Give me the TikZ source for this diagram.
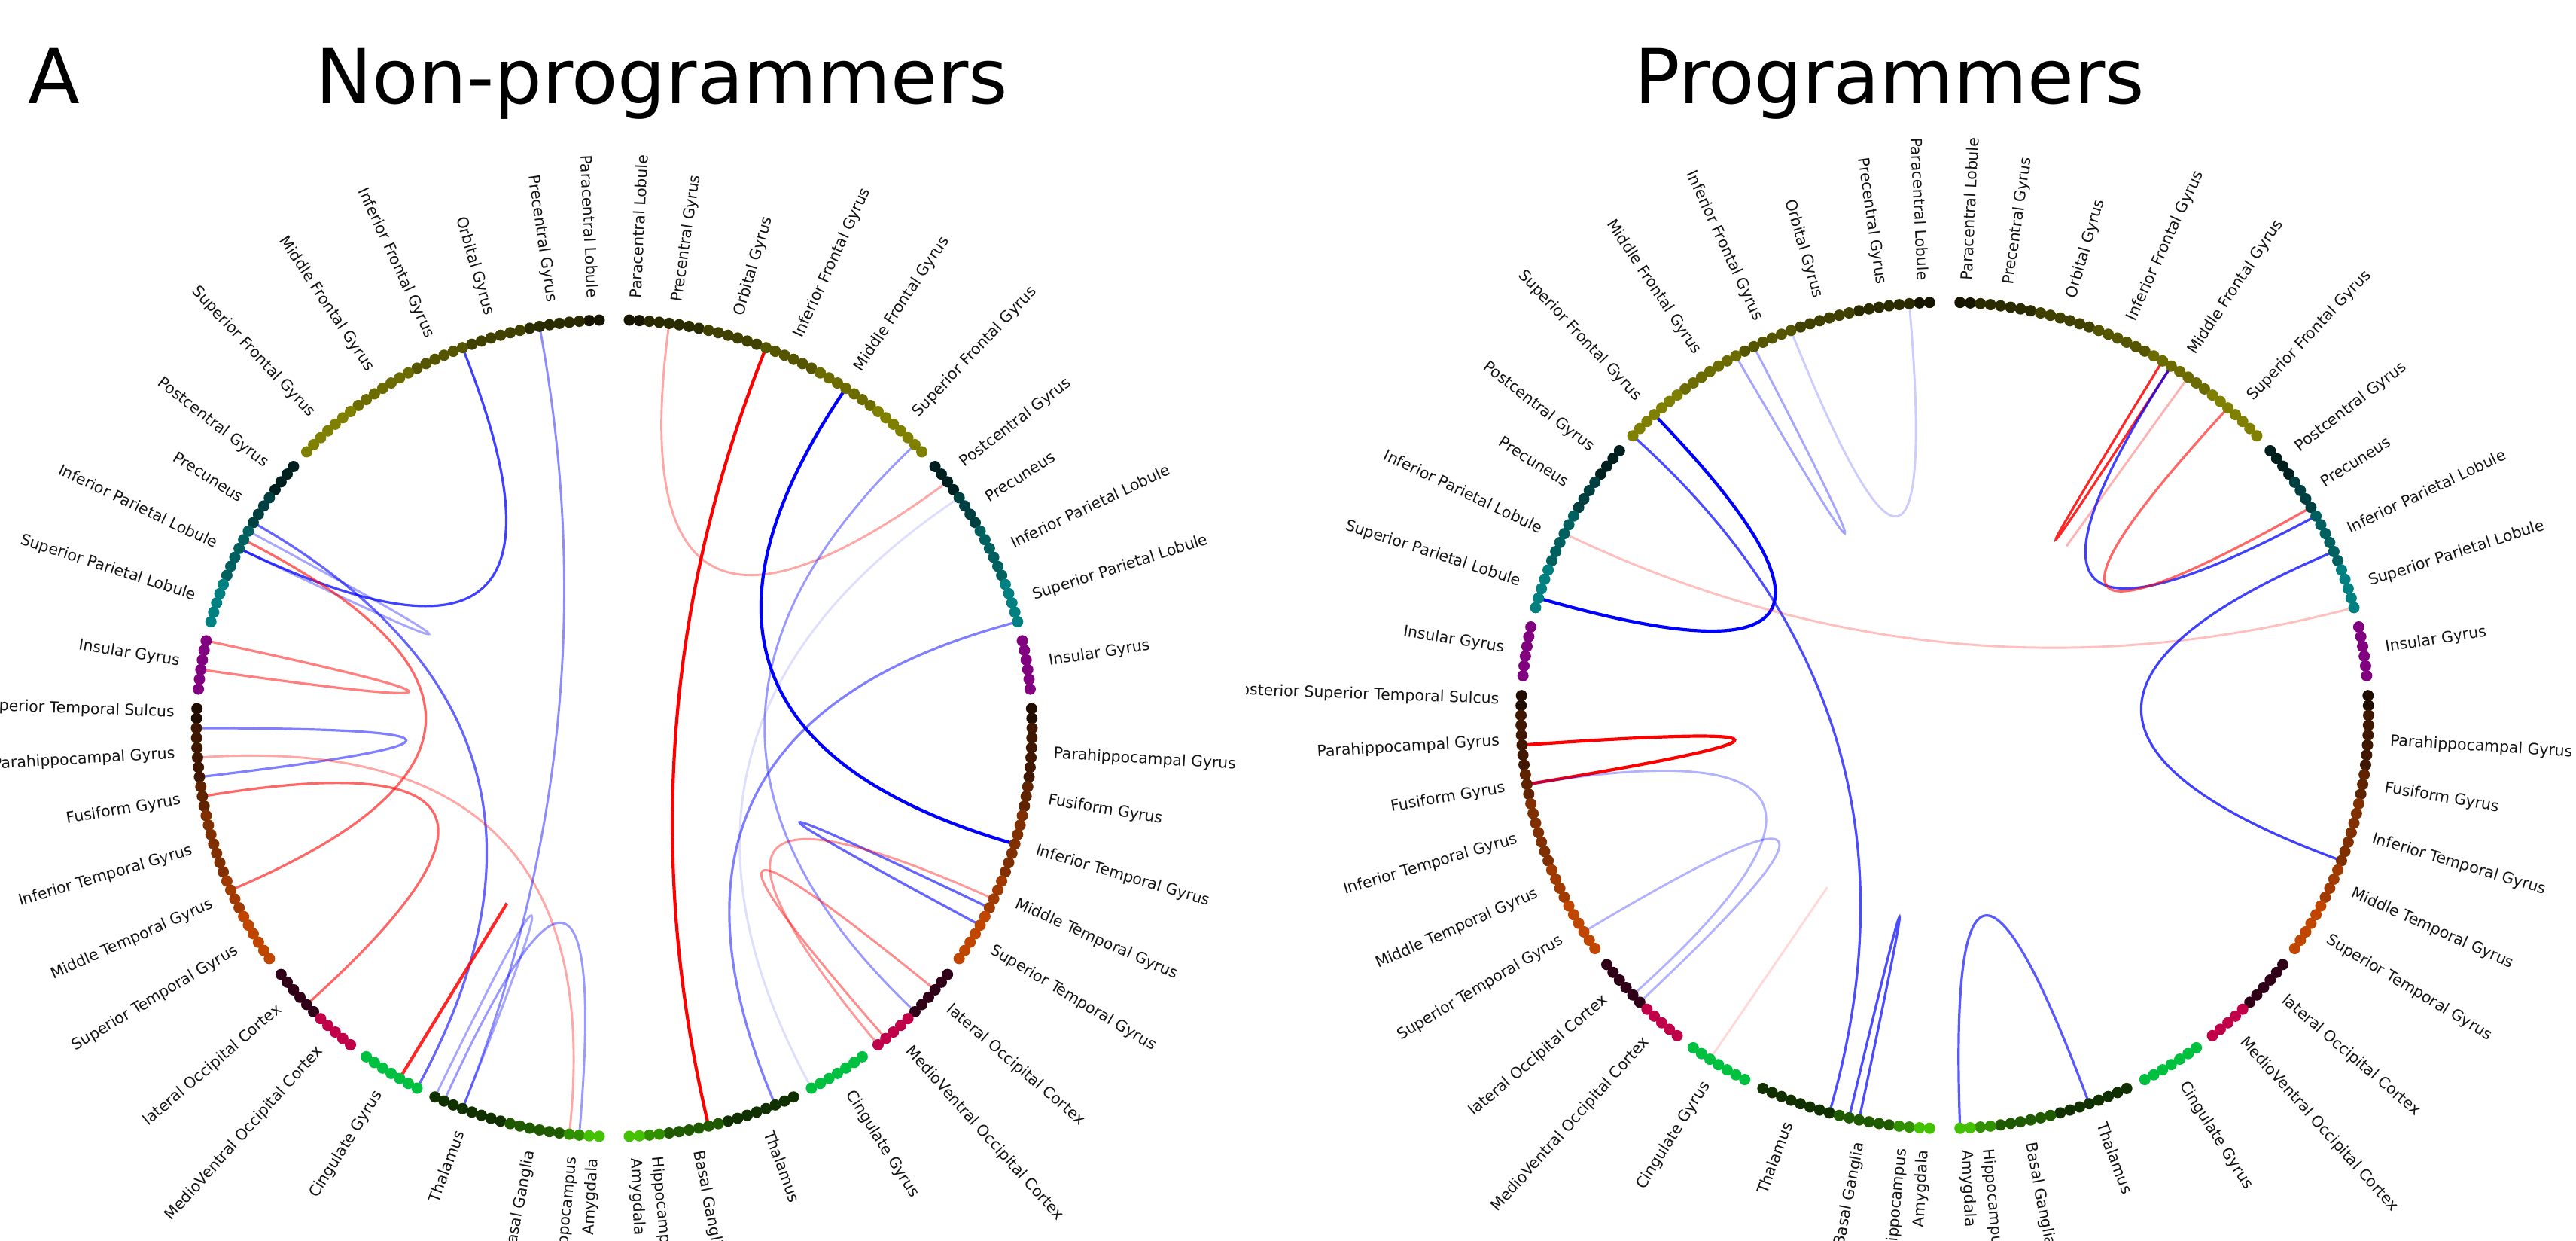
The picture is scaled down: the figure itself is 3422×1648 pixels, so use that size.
\documentclass[tikz,border=0pt]{standalone}
\usepackage{fontspec}
\setmainfont{DejaVu Sans}
\usetikzlibrary{calc}
\definecolor{cPCL}{RGB}{21,21,0}
\definecolor{cPrG}{RGB}{43,43,0}
\definecolor{cOrG}{RGB}{64,64,0}
\definecolor{cIFG}{RGB}{85,85,0}
\definecolor{cMFG}{RGB}{107,107,0}
\definecolor{cSFG}{RGB}{128,128,0}
\definecolor{cPoG}{RGB}{0,32,32}
\definecolor{cPcun}{RGB}{0,64,64}
\definecolor{cIPL}{RGB}{0,96,96}
\definecolor{cSPL}{RGB}{0,128,128}
\definecolor{cINS}{RGB}{128,0,128}
\definecolor{cpSTS}{RGB}{32,12,0}
\definecolor{cPhG}{RGB}{64,23,0}
\definecolor{cFuG}{RGB}{96,35,0}
\definecolor{cITG}{RGB}{128,47,0}
\definecolor{cMTG}{RGB}{160,58,0}
\definecolor{cSTG}{RGB}{192,70,0}
\definecolor{cLOcC}{RGB}{48,0,24}
\definecolor{cMVOcC}{RGB}{192,0,72}
\definecolor{cCG}{RGB}{0,192,64}
\definecolor{cTha}{RGB}{16,48,0}
\definecolor{cBG}{RGB}{32,90,0}
\definecolor{cHipp}{RGB}{48,144,0}
\definecolor{cAmyg}{RGB}{66,194,0}
\newcommand\regionlist{0/1/cPCL,2/7/cPrG,8/13/cOrG,14/19/cIFG,20/26/cMFG,27/33/cSFG,35/38/cPoG,39/42/cPcun,43/48/cIPL,49/53/cSPL,55/60/cINS,62/63/cpSTS,64/69/cPhG,70/72/cFuG,73/79/cITG,80/83/cMTG,84/89/cSTG,91/96/cLOcC,97/101/cMVOcC,103/109/cCG,111/118/cTha,119/124/cBG,125/126/cHipp,127/128/cAmyg}
% slot coordinates of one hemisphere
\newcommand\mkhemi[5]{%
  \foreach \p in {0,...,128}{%
    \pgfmathsetmacro\angv{90+(#3)*(1.5+\p)*1.37405}%
    \coordinate (#1-#2-\p) at (\angv:#4 and #5);}}
% dots of one hemisphere
\newcommand\mkdots[1]{%
  \foreach \a/\b/\c in \regionlist {%
    \foreach \p in {\a,...,\b}{\fill[\c] (#1-\p) circle[radius=7.5];}}}
% chord: centre, from, to, style
\newcommand\chord[4]{%
  \draw[#4] (#2) .. controls ($(#1)!0.3333!(#2)$) and ($(#1)!0.3333!(#3)$) .. (#3);}
% labels
\newcommand\leftlabels[3]{%
  \foreach \m/\labtxt [count=\labno] in {0.5/Paracentral Lobule,4.5/Precentral Gyrus,10.5/Orbital Gyrus,16.5/Inferior Frontal Gyrus,23/Middle Frontal Gyrus,30/Superior Frontal Gyrus,36.5/Postcentral Gyrus,40.5/Precuneus,45.5/Inferior Parietal Lobule,51/Superior Parietal Lobule,57.5/Insular Gyrus,62.5/Posterior Superior Temporal Sulcus,66.5/Parahippocampal Gyrus,71/Fusiform Gyrus,76/Inferior Temporal Gyrus,81.5/Middle Temporal Gyrus,86.5/Superior Temporal Gyrus,93.5/lateral Occipital Cortex,99/MedioVentral Occipital Cortex,106/Cingulate Gyrus,114.5/Thalamus,121.5/Basal Ganglia,125.5/Hippocampus,127.5/Amygdala}{%
    \pgfmathsetmacro\angv{90+(1.5+\m)*1.37405}%
    \pgfmathsetmacro\rotv{\angv-180}%
    \node[lab,anchor=east,rotate=\rotv] (#1-lab-L-\labno) at (\angv:#2 and #3) {\labtxt};}}
\newcommand\rightlabels[3]{%
  \foreach \m/\labtxt [count=\labno] in {0.5/Paracentral Lobule,4.5/Precentral Gyrus,10.5/Orbital Gyrus,16.5/Inferior Frontal Gyrus,23/Middle Frontal Gyrus,30/Superior Frontal Gyrus,36.5/Postcentral Gyrus,40.5/Precuneus,45.5/Inferior Parietal Lobule,51/Superior Parietal Lobule,57.5/Insular Gyrus,66.5/Parahippocampal Gyrus,71/Fusiform Gyrus,76/Inferior Temporal Gyrus,81.5/Middle Temporal Gyrus,86.5/Superior Temporal Gyrus,93.5/lateral Occipital Cortex,99/MedioVentral Occipital Cortex,106/Cingulate Gyrus,114.5/Thalamus,121.5/Basal Ganglia,125.5/Hippocampus,127.5/Amygdala}{%
    \pgfmathsetmacro\angv{90-(1.5+\m)*1.37405}%
    \node[lab,anchor=west,rotate=\angv] (#1-lab-R-\labno) at (\angv:#2 and #3) {\labtxt};}}
\begin{document}
\begin{tikzpicture}[x=0.1mm,y=0.1mm,
  lab/.style={font=\fontsize{5.8}{7}\selectfont,inner sep=0pt,text=black!92},
  title/.style={font=\fontsize{28.6}{34}\selectfont,inner sep=0pt},
  ch/.style={line width=0.32mm,line cap=round},
  rd/.style={ch,draw=red},
  bl/.style={ch,draw=blue},
  strong/.style={line width=0.42mm},
  weak/.style={line width=0.29mm}]
\useasboundingbox (0,0) rectangle (3422,1648);
\fill[white] (0,0) rectangle (3422,1648);
% titles
\node[title,anchor=base west] (tA) at (36.7,1510.7) {A};
\node[title,anchor=base west] (tNP) at (418.9,1510.7) {Non-programmers};
\node[title,anchor=base west] (tP) at (2170.5,1510.7) {Programmers};
% ---------------- left circle: Non-programmers ----------------
\coordinate (C1) at (816,681);
\begin{scope}[shift={(816,681)}]
  \mkhemi{A}{L}{1}{555}{542.3}
  \mkhemi{A}{R}{-1}{555}{542.3}
\end{scope}
\chord{C1}{A-L-14}{A-L-45}{bl,draw opacity=.75}
\chord{C1}{A-L-42}{A-L-109}{bl,draw opacity=.6}
\chord{C1}{A-L-43}{A-L-45}{bl,weak,draw opacity=.35}
\chord{C1}{A-L-44}{A-L-81}{rd,draw opacity=.6}
\chord{C1}{A-L-55}{A-L-58}{rd,draw opacity=.5}
\chord{C1}{A-L-64}{A-L-69}{bl,draw opacity=.5}
\chord{C1}{A-L-67}{A-L-125}{rd,weak,draw opacity=.35}
\chord{C1}{A-L-71}{A-L-95}{rd,draw opacity=.6}
\chord{C1}{A-L-107}{A-L-107}{rd,strong,draw opacity=.85}
\chord{C1}{A-L-111}{A-L-114}{bl,weak,draw opacity=.35}
\chord{C1}{A-L-112}{A-L-126}{bl,weak,draw opacity=.4}
\chord{C1}{A-L-6}{A-L-114}{bl,weak,draw opacity=.45}
\chord{C1}{A-R-14}{A-R-120}{rd,strong}
\chord{C1}{A-R-4}{A-R-37}{rd,weak,draw opacity=.35}
\chord{C1}{A-R-23}{A-R-76}{bl,strong}
\chord{C1}{A-R-32}{A-R-96}{bl,weak,draw opacity=.4}
\chord{C1}{A-R-39}{A-R-109}{bl,weak,draw opacity=.13}
\chord{C1}{A-R-53}{A-R-113}{bl,draw opacity=.5}
\chord{C1}{A-R-83}{A-R-85}{bl,draw opacity=.6}
\chord{C1}{A-R-82}{A-R-101}{rd,weak,draw opacity=.4}
\chord{C1}{A-R-93}{A-R-100}{rd,weak,draw opacity=.45}
\mkdots{A-L}
\mkdots{A-R}
\begin{scope}[shift={(816,681)}]
  \leftlabels{A}{584}{571.3}
  \rightlabels{A}{584}{571.3}
\end{scope}
% ---------------- right circle: Programmers ----------------
\begin{scope}
\clip (1655,0) rectangle (3422,1648);
\coordinate (C2) at (2583.5,698);
\begin{scope}[shift={(2583.5,698)}]
  \mkhemi{B}{L}{1}{563}{548.6}
  \mkhemi{B}{R}{-1}{563}{548.6}
\end{scope}
\chord{C2}{B-L-2}{B-L-14}{bl,weak,draw opacity=.2}
\chord{C2}{B-L-18}{B-L-20}{bl,weak,draw opacity=.35}
\chord{C2}{B-L-30}{B-L-52}{bl,strong}
\chord{C2}{B-L-33}{B-L-118}{bl,draw opacity=.7}
\chord{C2}{B-L-45}{B-R-53}{rd,weak,draw opacity=.25}
\chord{C2}{B-R-21}{B-R-22}{rd,draw opacity=.85}
\chord{C2}{B-R-24}{B-R-24}{rd,weak,draw opacity=.3}
\chord{C2}{B-R-22}{B-R-43}{bl,draw opacity=.75}
\chord{C2}{B-R-29}{B-R-42}{rd,draw opacity=.6}
\chord{C2}{B-R-47}{B-R-79}{bl,draw opacity=.75}
\chord{C2}{B-L-67}{B-L-71}{rd,strong}
\chord{C2}{B-L-71}{B-L-95}{bl,weak,draw opacity=.3}
\chord{C2}{B-L-87}{B-L-96}{bl,weak,draw opacity=.3}
\chord{C2}{B-L-105}{B-L-105}{rd,weak,draw opacity=.15}
\chord{C2}{B-L-120}{B-L-121}{bl,draw opacity=.7}
\chord{C2}{B-R-115}{B-R-128}{bl,draw opacity=.65}
\mkdots{B-L}
\mkdots{B-R}
\begin{scope}[shift={(2583.5,698)}]
  \leftlabels{B}{592}{577.6}
  \rightlabels{B}{592}{577.6}
\end{scope}
\end{scope}
\end{tikzpicture}
\end{document}
